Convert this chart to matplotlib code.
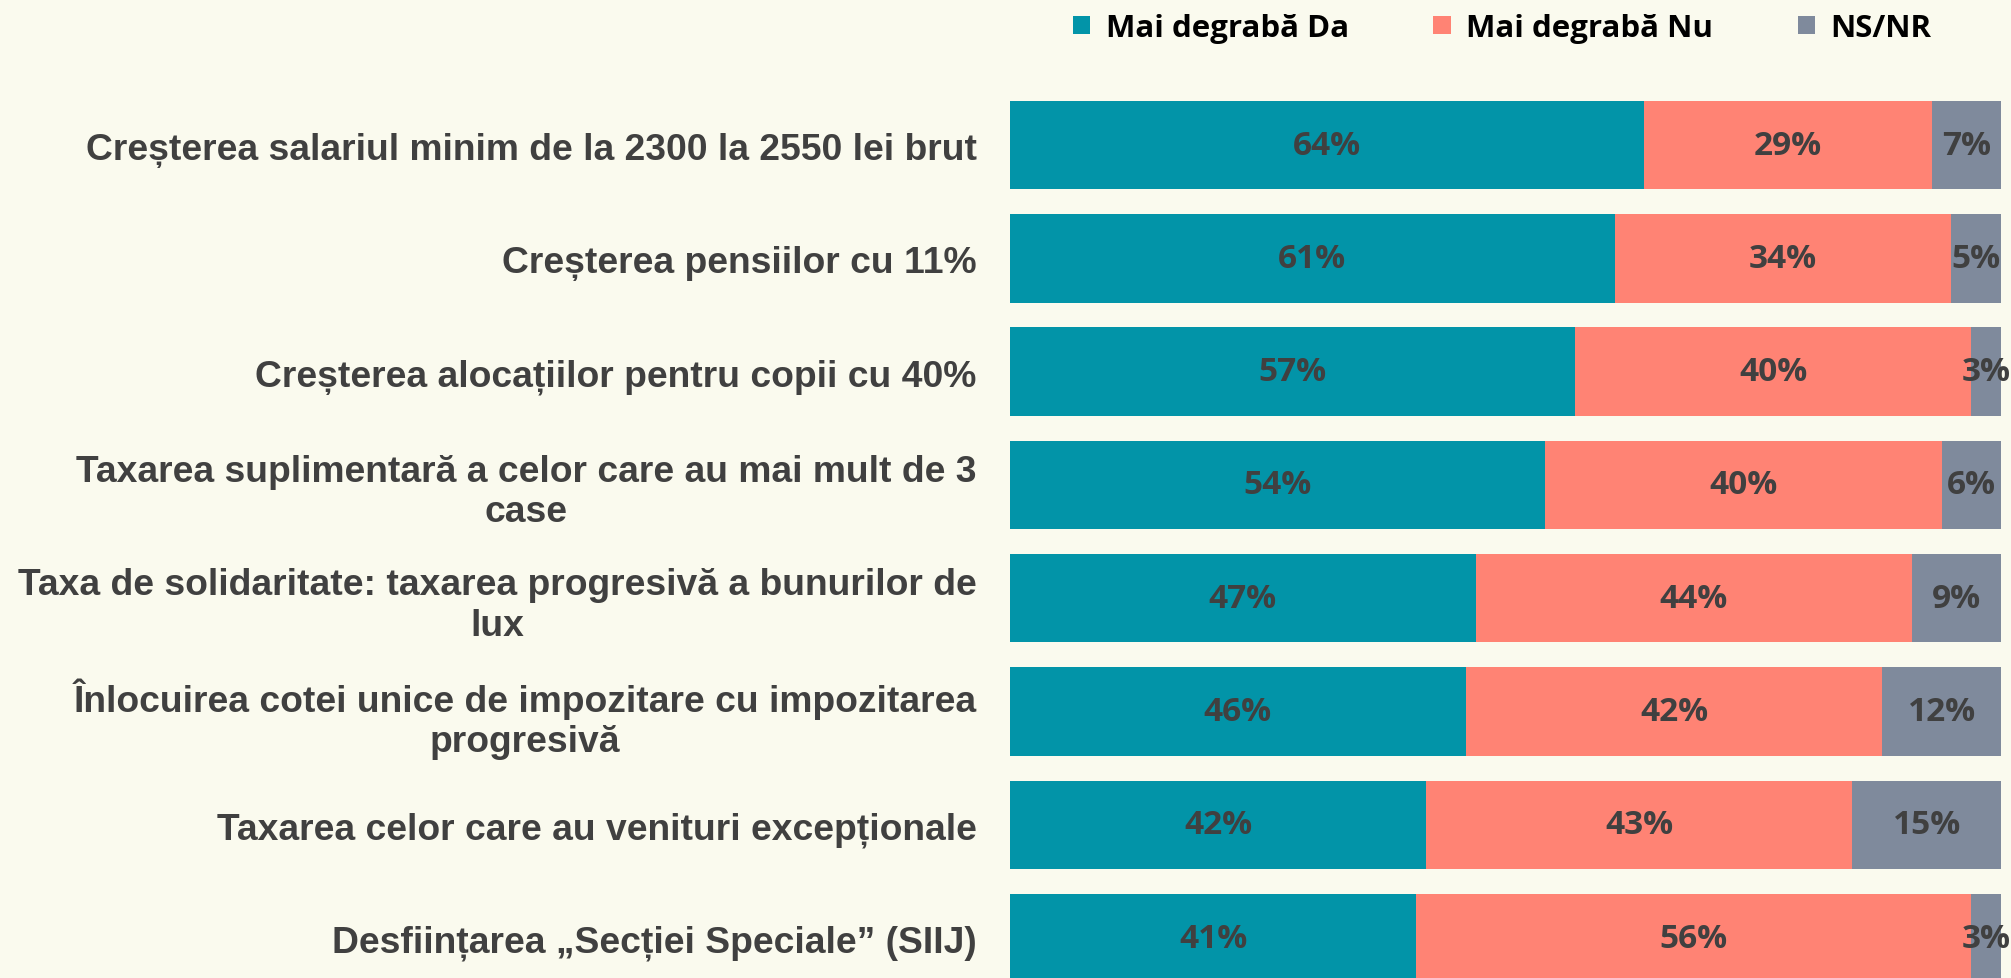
import matplotlib
matplotlib.use("Agg")
import matplotlib.pyplot as plt
import numpy as np

categories = [
    "Creșterea salariul minim de la 2300 la 2550 lei brut",
    "Creșterea pensiilor cu 11%",
    "Creșterea alocațiilor pentru copii cu 40%",
    "Taxarea suplimentară a celor care au mai mult de 3\ncase",
    "Taxa de solidaritate: taxarea progresivă a bunurilor de\nlux",
    "Înlocuirea cotei unice de impozitare cu impozitarea\nprogresivă",
    "Taxarea celor care au venituri excepționale",
    "Desființarea „Secției Speciale” (SIIJ)",
]
da = [64, 61, 57, 54, 47, 46, 42, 41]
nu = [29, 34, 40, 40, 44, 42, 43, 56]
nsnr = [7, 5, 3, 6, 9, 12, 15, 3]
series_names = ["Mai degrabă Da", "Mai degrabă Nu", "NS/NR"]
colors = ["#0294A8", "#FF8374", "#7F8A9C"]

W, H = 2011, 979
fig = plt.figure(figsize=(W / 100, H / 100), dpi=100)
bg = "#FAFAEE"
fig.patch.set_facecolor(bg)

ax_left = 1010 / W
ax_right = 2001 / W
ax = fig.add_axes([ax_left, 0, ax_right - ax_left, 1])
ax.set_facecolor("none")

y = np.arange(len(categories))
bar_h = 0.78
left = np.zeros(len(categories))
handles = []
for vals, name, col in zip([da, nu, nsnr], series_names, colors):
    vals = np.array(vals, dtype=float)
    b = ax.barh(y, vals, left=left, height=bar_h, color=col, label=name,
                edgecolor="none")
    handles.append(b)
    for yi, (l, v) in enumerate(zip(left, vals)):
        ax.text(l + v / 2, yi, f"{int(v)}%", ha="center", va="center",
                fontsize=24, fontweight="bold", family="Open Sans",
                color="#404040", clip_on=False)
    left = left + vals

ax.set_xlim(0, 100)
ax.set_ylim(7.352, -1.289)
ax.set_yticks(y)
ax.set_yticklabels(categories, fontsize=26.85, fontweight="bold",
                   family="Liberation Sans", color="#404040",
                   multialignment="center", linespacing=1.2)
ax.tick_params(axis="y", length=0, pad=24)
ax.set_xticks([])
for s in ax.spines.values():
    s.set_visible(False)

leg = fig.legend(handles=handles, labels=series_names, loc="center left",
                 bbox_to_anchor=(1073 / W, 1 - 29 / H), ncol=3, frameon=False,
                 prop={"family": "Open Sans", "weight": "bold", "size": 22.5},
                 handlelength=0.55, handleheight=0.55, handletextpad=0.5,
                 columnspacing=2.7, borderpad=0, borderaxespad=0)

fig.savefig("out.png", dpi=100, facecolor=bg)
